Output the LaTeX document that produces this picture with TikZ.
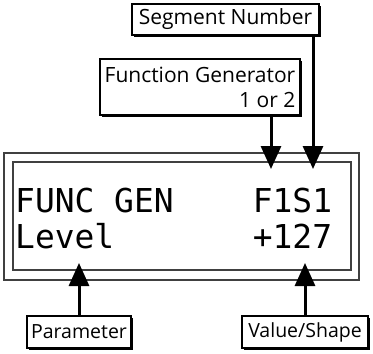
\documentclass[tikz,border=0pt]{standalone}
\usepackage{fontspec}
\setmainfont{Open Sans}
\setmonofont{DejaVu Sans Mono}
\usetikzlibrary{arrows.meta,shadows}

\begin{document}
\begin{tikzpicture}[x=1pt, y=-1pt,
  every node/.style={font=\fontsize{20}{25}\selectfont},
  >={Triangle[length=23pt, width=20pt]},
  lbl/.style={draw, line width=1.2pt, fill=white, inner sep=0pt, drop shadow={shadow xshift=2pt, shadow yshift=-2pt, fill=black, opacity=1}},
  toplbl/.style={lbl, font=\fontsize{21}{25}\selectfont},
  botlbl/.style={lbl, font=\fontsize{19.5}{24}\selectfont, minimum height=32pt},
  lcd/.style={draw=black!75, line width=1.1pt, inner sep=0pt},
  lcdtext/.style={font=\ttfamily\fontsize{32.9}{36}\selectfont, inner sep=0pt, anchor=base west},
  arr/.style={->, line width=3pt}]
  \useasboundingbox (0,0) rectangle (373,354);
  % display frame
  \node[lcd, minimum width=355pt, minimum height=127pt] (frame) at (181.5,216.5) {};
  \node[lcd, minimum width=338pt, minimum height=108pt] (screen) at (182,216) {};
  \node[lcdtext] (lineone) at (15,212) {FUNC GEN~~~~F1S1};
  \node[lcdtext] (linetwo) at (15,248) {Level~~~~~~~+127};
  % labels
  \node[toplbl, minimum width=187pt, minimum height=31pt] (segnum) at (225.5,19.5) {Segment Number};
  \node[toplbl, minimum width=200pt, minimum height=56pt, align=right] (fgen) at (200,87) {Function Generator\\1 or 2};
  \node[botlbl, minimum width=104pt] (param) at (79,332) {Parameter};
  \node[botlbl, minimum width=126pt] (value) at (305,332) {Value/Shape};
  % arrow tips
  \coordinate (fgtip) at (271,169);
  \coordinate (sgtip) at (313,169);
  \coordinate (partip) at (79,263);
  \coordinate (valtip) at (305,263);
  \draw[arr] (fgen.south -| fgtip) -- (fgtip);
  \draw[arr] (segnum.south -| sgtip) -- (sgtip);
  \draw[arr] (param) -- (partip);
  \draw[arr] (value) -- (valtip);
\end{tikzpicture}
\end{document}
